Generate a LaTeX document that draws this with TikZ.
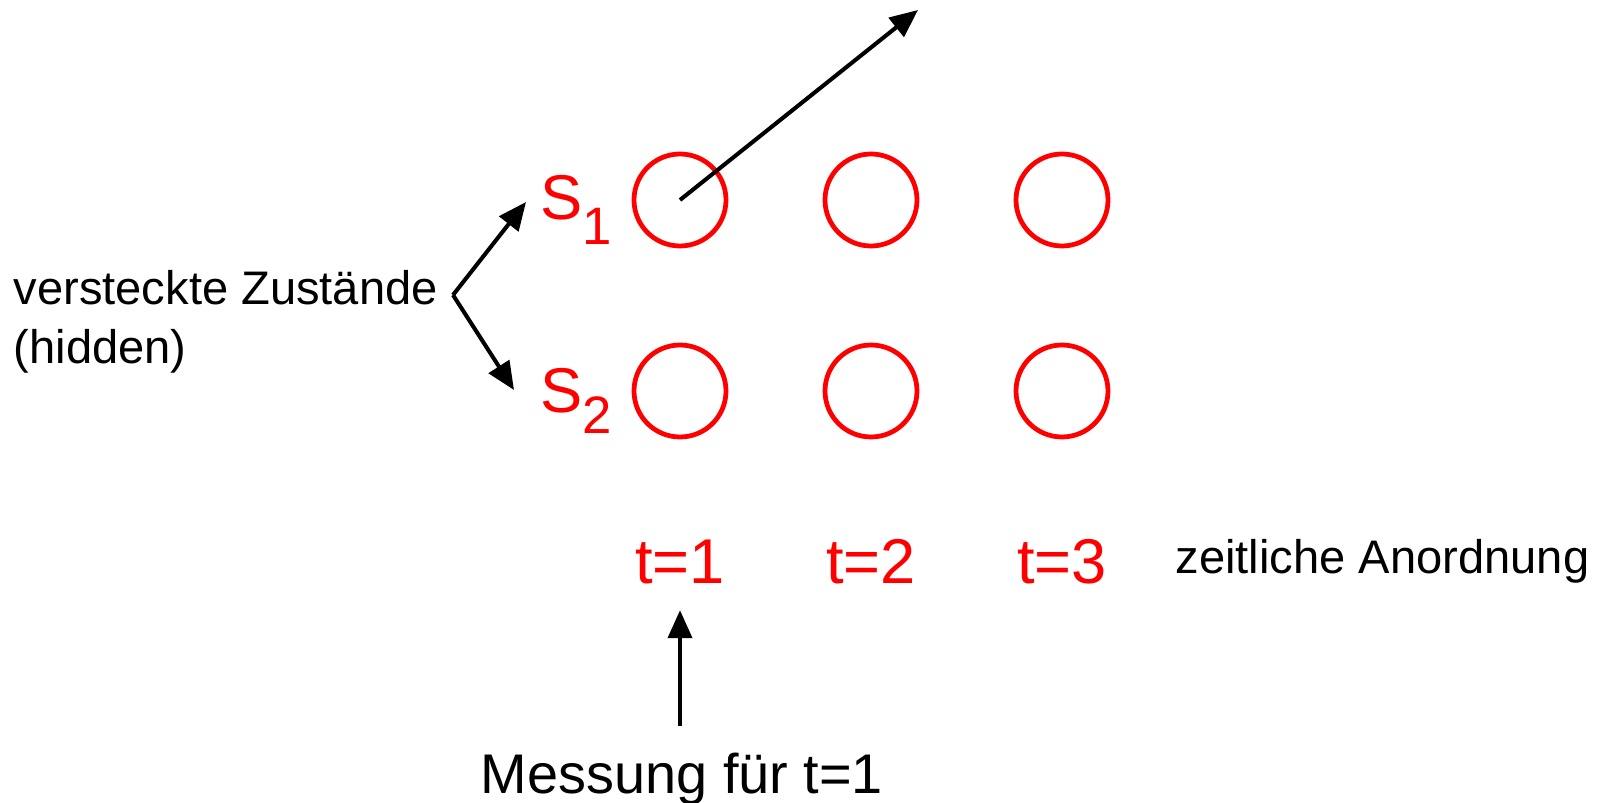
\documentclass[tikz,border=0pt]{standalone}
\usepackage{fontspec}
\setmainfont{Liberation Sans}
\usepackage{xcolor}
\usetikzlibrary{arrows.meta}
\definecolor{zustandrot}{RGB}{255, 0, 0}

\begin{document}
\begin{tikzpicture}[
        zustand/.style={circle, draw=zustandrot, line width=1.35pt, minimum size=0.92cm, inner sep=0pt},
        pfeil/.style={-{Triangle[length=2.8mm, width=2.4mm]}, line width=1.15pt},
        rotlabel/.style={text=zustandrot, font=\fontsize{18}{21}\selectfont, inner sep=0pt},
        schwarz/.style={font=\fontsize{13.4}{16}\selectfont, inner sep=0pt}
    ]
            \useasboundingbox (0,0) rectangle (15.99,8.02);

            % Zustaende: zwei Reihen, drei Zeitschritte
            \foreach \i/\x in {1/6.80, 2/8.71, 3/10.62} {
                \node[zustand] (z1\i) at (\x, 6.02) {};
                \node[zustand] (z2\i) at (\x, 4.11) {};
                \node[rotlabel, anchor=base] (t\i) at (\x, 2.19) {t=\i};
            }
            \node[schwarz, anchor=base west] (zeit) at (11.75, 2.29) {zeitliche Anordnung};

            % S_1, S_2
            \node[rotlabel, anchor=base west] (s1) at (5.40, 5.82) {S\raisebox{-7pt}{\fontsize{15}{18}\selectfont 1}};
            \node[rotlabel, anchor=base west] (s2) at (5.40, 3.90) {S\raisebox{-6pt}{\fontsize{15}{18}\selectfont 2}};

            % versteckte Zustaende
            \node[schwarz, anchor=base west] (hidden1) at (0.13, 4.97) {versteckte Zustände};
            \node[schwarz, anchor=base west] (hidden2) at (0.13, 4.38) {(hidden)};
            \coordinate (knick) at (4.53, 5.07);
            \coordinate (ziel1) at (5.26, 6.00);
            \coordinate (ziel2) at (5.14, 4.12);
            \draw[pfeil] (knick) -- (ziel1);
            \draw[pfeil] (knick) -- (ziel2);

            % Ausgabe von S_1
            \coordinate (oben) at (9.18, 7.92);
            \draw[pfeil] (z11.center) -- (oben);

            % Messung
            \node[font=\fontsize{15.9}{19}\selectfont, anchor=base, inner sep=0pt] (mess) at (6.82, 0.09) {Messung für t=1};
            \draw[pfeil, shorten <=2.6mm, shorten >=2.6mm] (t1.south |- mess.north) -- (t1.south);
        \end{tikzpicture}
\end{document}
